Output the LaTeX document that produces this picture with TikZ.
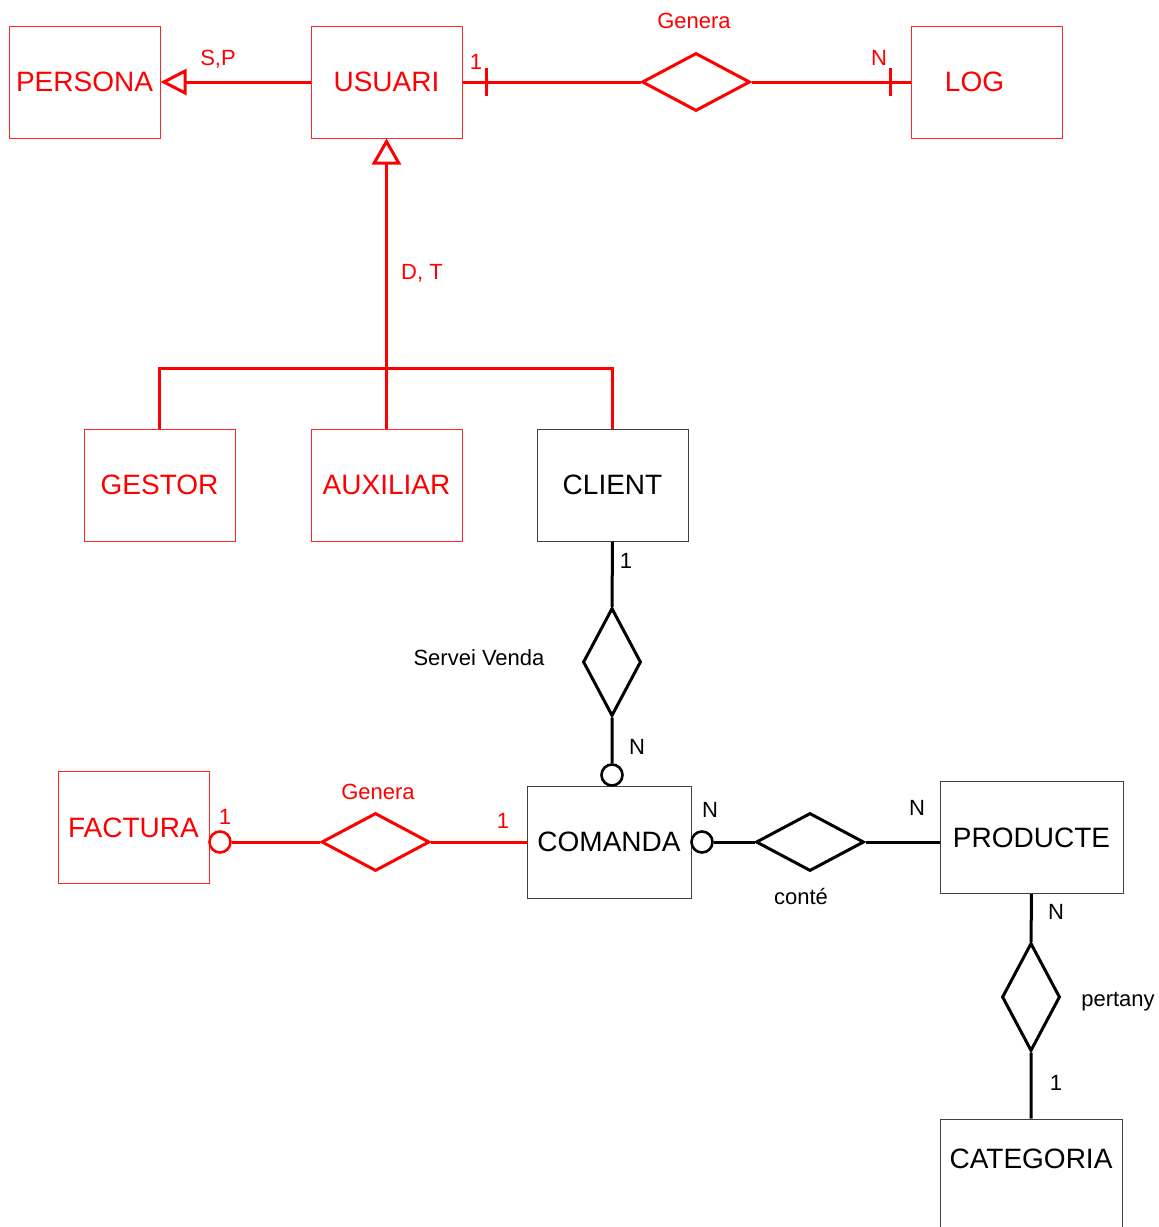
\documentclass[tikz,border=0pt]{standalone}
\usepackage{fontspec}
\setmainfont{Liberation Sans}
\usetikzlibrary{arrows.meta, shapes.geometric}

\begin{document}
\begin{tikzpicture}[
		x=0.5pt, y=-0.5pt,
		% Entitats
		entity/.style={
			rectangle,
			draw=black!75,
			line width=0.5pt,
			minimum width=75.5pt,
			minimum height=56pt,
			inner sep=2pt,
			font=\fontsize{14}{16}\selectfont
		},
		entity-red/.style={entity, draw=red!85, text=red},
		% Relacions (rombes)
		rel-h/.style={
			diamond,
			draw,
			fill=white,
			line width=1.5pt,
			inner sep=0pt,
			minimum width=54pt,
			minimum height=29pt
		},
		rel-v/.style={rel-h, minimum width=29pt, minimum height=54pt},
		% Cercle d'opcionalitat
		opt/.style={circle, draw, fill=white, line width=1.3pt, inner sep=0pt, minimum size=10.5pt},
		% Linies
		link/.style={line width=1.5pt, black},
		link-red/.style={line width=1.5pt, red},
		isa-tip/.style={-{Triangle[open, length=13pt, width=#1]}},
		% Etiquetes
		lbl/.style={font=\fontsize{11}{13}\selectfont, inner sep=1pt},
		lbl-red/.style={lbl, text=red}
		]
		
		\path[use as bounding box, fill=white] (0,0) rectangle (1159,1227);
		
		% Entitats
		\node (persona) [entity-red] at (84.5,82) {PERSONA};
		\node (usuari) [entity-red] at (386.5,82) {USUARI};
		\node (log) [entity-red] at (986.5,82) {LOG\hspace*{12pt}};
		\node (gestor) [entity-red] at (159.5,485) {GESTOR};
		\node (auxiliar) [entity-red] at (386.5,485) {AUXILIAR};
		\node (client) [entity] at (612.5,485) {CLIENT};
		\node (factura) [entity-red] at (133.5,827.5) {FACTURA};
		\node (comanda) [entity, minimum width=82pt] at (609,842) {COMANDA};
		\node (producte) [entity, minimum width=91.5pt] at (1031.5,837.5) {PRODUCTE};
		\node (categoria) [entity, minimum width=91pt, text depth=16pt] at (1031,1175) {CATEGORIA};
		
		% Relacions
		\node (generaU) [rel-h, draw=red] at (696,82) {};
		\node (servei) [rel-v] at (612,662) {};
		\node (generaF) [rel-h, draw=red] at (375.5,842) {};
		\node (conte) [rel-h] at (810,842) {};
		\node (pertany) [rel-v] at (1031,997) {};
		
		% Cercles
		\node (optF) [opt, draw=red] at (220,842) {};
		\node (optC) [opt] at (612,775) {};
		\node (optP) [opt] at (702,842) {};
		
		% Genera (USUARI - LOG)
		\draw [link-red] (usuari) -- (generaU) -- (log);
		\draw [link-red] ([xshift=12pt, yshift=7pt]usuari.east) -- ([xshift=12pt, yshift=-7pt]usuari.east);
		\draw [link-red] ([xshift=-10pt, yshift=7pt]log.west) -- ([xshift=-10pt, yshift=-7pt]log.west);
		
		% Generalitzacions
		\draw [link-red, isa-tip=13pt] (usuari) -- (persona);
		\coordinate (isa) at (386.5,368);
		\draw [link-red, isa-tip=14.5pt] (auxiliar) -- (usuari);
		\draw [link-red] (gestor.north) |- (isa) -| (client.north);
		
		% Relacions de la part baixa
		\draw [link] (client) -- (servei) -- (optC);
		\draw [link-red] (optF) -- (generaF) -- (comanda);
		\draw [link] (optP) -- (conte) -- (conte -| producte.west);
		\draw [link] (producte) -- (pertany) -- (categoria);
		
		% Etiquetes
		\node (lGeneraU) [lbl-red] at (694,21) {Genera};
		\node (c1U) [lbl-red] at (476,62) {1};
		\node (cNL) [lbl-red] at (879,58) {N};
		\node (lSP) [lbl-red] at (218,59) {S,P};
		\node (lDT) [lbl-red] at (422,273) {D, T};
		\node (c1C) [lbl] at (626,561) {1};
		\node (cNC) [lbl] at (637,747) {N};
		\node (lServei) [lbl] at (479,658) {Servei Venda};
		\node (lGeneraF) [lbl-red] at (378,792) {Genera};
		\node (c1F) [lbl-red] at (225,817) {1};
		\node (c1Co) [lbl-red] at (503,821) {1};
		\node (cNCo) [lbl] at (710,810) {N};
		\node (cNP) [lbl] at (917,808) {N};
		\node (lConte) [lbl] at (801,896) {conté};
		\node (cNP2) [lbl] at (1056,912) {N};
		\node (c1Cat) [lbl] at (1056,1083) {1};
		\node (lPertany) [lbl] at (1118,1002) {pertany};
		
	\end{tikzpicture}
\end{document}
